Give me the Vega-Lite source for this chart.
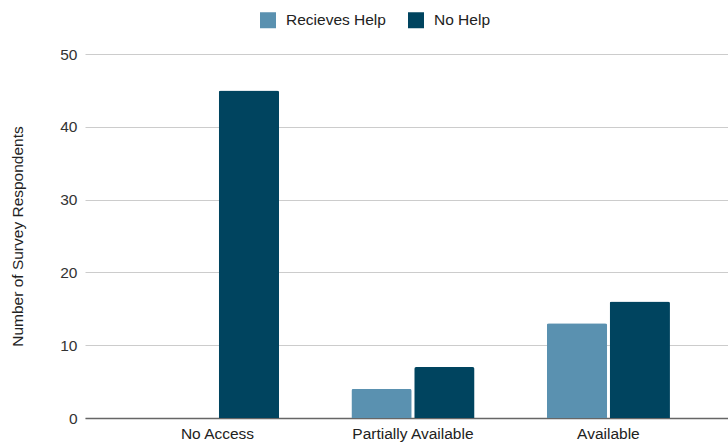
{
  "$schema": "https://vega.github.io/schema/vega-lite/v6.json",
  "width": 643,
  "height": 364,
  "autosize": {"type": "none"},
  "padding": {"left": 85, "top": 54, "right": 0, "bottom": 25},
  "background": "white",
  "config": {
    "font": "Liberation Sans",
    "view": {"stroke": null}
  },
  "data": {
    "values": [
      {"category": "No Access", "group": "Recieves Help", "value": 0},
      {"category": "No Access", "group": "No Help", "value": 45},
      {"category": "Partially Available", "group": "Recieves Help", "value": 4},
      {"category": "Partially Available", "group": "No Help", "value": 7},
      {"category": "Available", "group": "Recieves Help", "value": 13},
      {"category": "Available", "group": "No Help", "value": 16}
    ]
  },
  "mark": {"type": "bar", "cornerRadiusTopLeft": 2, "cornerRadiusTopRight": 2},
  "encoding": {
    "x": {
      "field": "category",
      "type": "nominal",
      "sort": ["No Access", "Partially Available", "Available"],
      "scale": {"paddingInner": 0.37, "paddingOuter": 0.33, "align": 0.55},
      "axis": {
        "title": null,
        "labelAngle": 0,
        "labelFontSize": 15.5,
        "labelColor": "#222222",
        "labelPadding": 8,
        "ticks": false,
        "domainColor": "#666666",
        "domainWidth": 1.5,
        "grid": false
      }
    },
    "xOffset": {
      "field": "group",
      "type": "nominal",
      "sort": ["Recieves Help", "No Help"],
      "scale": {"paddingInner": 0.04, "paddingOuter": 0}
    },
    "y": {
      "field": "value",
      "type": "quantitative",
      "scale": {"domain": [0, 50]},
      "axis": {
        "title": "Number of Survey Respondents",
        "titleFontSize": 15.5,
        "titleFontWeight": "normal",
        "titleColor": "#222222",
        "titlePadding": 34,
        "values": [0, 10, 20, 30, 40, 50],
        "labelFontSize": 15.5,
        "labelColor": "#333333",
        "labelPadding": 8,
        "ticks": false,
        "domain": false,
        "gridColor": "#cccccc",
        "gridWidth": 1
      }
    },
    "color": {
      "field": "group",
      "type": "nominal",
      "sort": ["Recieves Help", "No Help"],
      "scale": {"domain": ["Recieves Help", "No Help"], "range": ["#5a91b0", "#00445f"]},
      "legend": {
        "title": null,
        "orient": "none",
        "direction": "horizontal",
        "legendX": 175,
        "legendY": -42,
        "symbolType": "square",
        "symbolSize": 256,
        "symbolStrokeWidth": 0,
        "labelFontSize": 15.5,
        "labelColor": "#222222",
        "labelOffset": 10,
        "columnPadding": 22
      }
    }
  }
}
